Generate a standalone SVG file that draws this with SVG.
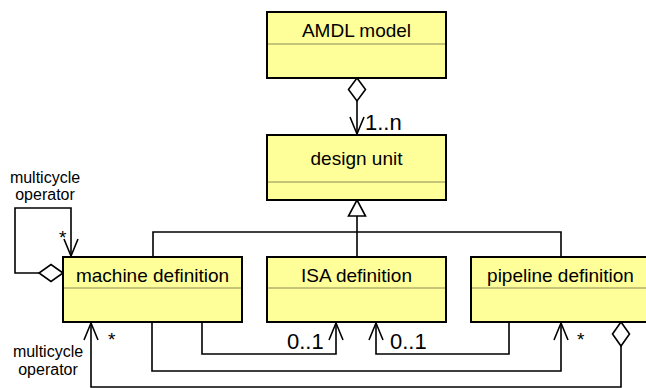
<svg xmlns="http://www.w3.org/2000/svg" width="646" height="388" viewBox="0 0 646 388">
<defs>
<style>
.box{fill:#ffff99;stroke:#000;stroke-width:2}
.sep{stroke:#8a8a5a;stroke-width:1}
.name{font-family:"Liberation Sans",Arial,sans-serif;font-size:19px;text-anchor:middle;fill:#000}
.lbl{font-family:"Liberation Sans",Arial,sans-serif;font-size:22px;fill:#000}
.sm{font-family:"Liberation Sans",Arial,sans-serif;font-size:16px;fill:#000}
.st{font-family:"Liberation Sans",Arial,sans-serif;font-size:19px;fill:#000}
.ln{fill:none;stroke:#000;stroke-width:1.6}
.dia{fill:#fff;stroke:#000;stroke-width:1.6}
</style>
</defs>
<g id="connectors">
<!-- AMDL to design unit -->
<polygon class="dia" points="357,78 365.5,89.5 357,101 348.5,89.5"/>
<line class="ln" x1="357" y1="101" x2="357" y2="134"/>
<polyline class="ln" points="350,117 357,134 364,117"/>
<text class="lbl" x="365" y="130">1..n</text>
<!-- generalization -->
<polygon class="dia" points="357,200 365.5,216 348.5,216"/>
<line class="ln" x1="357" y1="216" x2="357" y2="257"/>
<polyline class="ln" points="153,257 153,232 561,232 561,257"/>
<!-- self loop -->
<polygon class="dia" points="63,273 51,264.5 39,273 51,281.5"/>
<polyline class="ln" points="39,273 15,273 15,208 71,208 71,256"/>
<polyline class="ln" points="64,239 71,256 78,239"/>
<text class="st" x="59" y="244">*</text>
<text class="sm" x="45" y="183" text-anchor="middle">multicycle</text>
<text class="sm" x="45" y="200" text-anchor="middle">operator</text>
<!-- machine to ISA -->
<polyline class="ln" points="202,322 202,354 336,354 336,323"/>
<polyline class="ln" points="329,340 336,323 343,340"/>
<text class="lbl" x="287" y="349">0..1</text>
<!-- pipeline to ISA -->
<polyline class="ln" points="509,322 509,354 376,354 376,323"/>
<polyline class="ln" points="369,340 376,323 383,340"/>
<text class="lbl" x="390" y="349">0..1</text>
<!-- machine to pipeline -->
<polyline class="ln" points="152,322 152,371 561,371 561,323"/>
<polyline class="ln" points="554,340 561,323 568,340"/>
<text class="st" x="577" y="346">*</text>
<!-- pipeline to machine -->
<polygon class="dia" points="621,322 629.5,334 621,346 612.5,334"/>
<polyline class="ln" points="621,346 621,387 91,387 91,323"/>
<polyline class="ln" points="84,340 91,323 98,340"/>
<text class="st" x="108" y="346">*</text>
<text class="sm" x="48" y="357" text-anchor="middle">multicycle</text>
<text class="sm" x="48" y="375" text-anchor="middle">operator</text>
</g>
<g id="amdl-model">
<rect class="box" x="267" y="12" width="179" height="66"/>
<line class="sep" x1="268" y1="44" x2="445" y2="44"/>
<text class="name" x="356.5" y="37">AMDL model</text>
</g>
<g id="design-unit">
<rect class="box" x="267" y="135" width="179" height="65"/>
<line class="sep" x1="268" y1="182" x2="445" y2="182"/>
<text class="name" x="356.5" y="165">design unit</text>
</g>
<g id="machine-definition">
<rect class="box" x="63" y="257" width="179" height="65"/>
<line class="sep" x1="64" y1="288" x2="241" y2="288"/>
<text class="name" x="152.5" y="282">machine definition</text>
</g>
<g id="isa-definition">
<rect class="box" x="267" y="257" width="179" height="65"/>
<line class="sep" x1="268" y1="288" x2="445" y2="288"/>
<text class="name" x="356.5" y="282">ISA definition</text>
</g>
<g id="pipeline-definition">
<rect class="box" x="471" y="257" width="179" height="65"/>
<line class="sep" x1="472" y1="288" x2="649" y2="288"/>
<text class="name" x="560.5" y="282">pipeline definition</text>
</g>
</svg>
